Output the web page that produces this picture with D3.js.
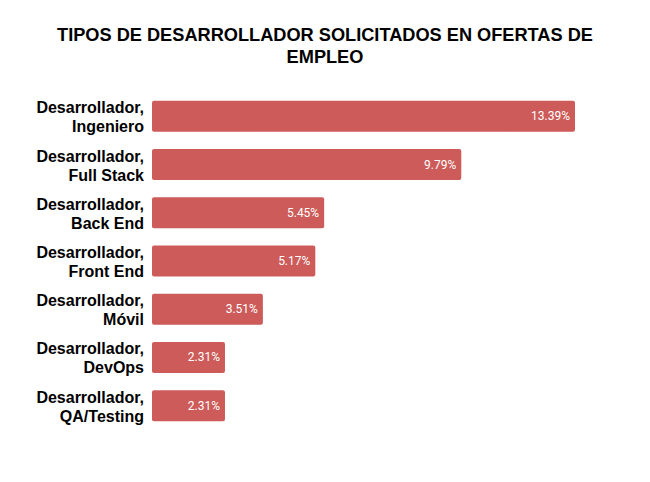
<!DOCTYPE html>
<html><head><meta charset="utf-8">
<script src="https://cdn.jsdelivr.net/npm/d3@7"></script>
<style>body{margin:0;background:#fff}</style>
</head><body>
<svg id="c" width="650" height="482"></svg>
<script>
const categories = ["Desarrollador, Ingeniero","Desarrollador, Full Stack","Desarrollador, Back End","Desarrollador, Front End","Desarrollador, Móvil","Desarrollador, DevOps","Desarrollador, QA/Testing"];
const values = [13.39, 9.79, 5.45, 5.17, 3.51, 2.31, 2.31];
const titleLines = ["TIPOS DE DESARROLLADOR SOLICITADOS EN OFERTAS DE","EMPLEO"];

const svg = d3.select("#c");
const x = d3.scaleLinear().domain([0, 13.39]).range([152, 575]);
const y = d3.scaleBand().domain(categories).range([93, 429]).paddingInner(0.355).paddingOuter(0.16);

svg.append("g").selectAll("text").data(titleLines).join("text")
  .attr("x", 325).attr("y", (d,i)=>41+i*22)
  .attr("text-anchor","middle").attr("font-family","'Liberation Sans', Arial, sans-serif")
  .attr("font-weight","bold").attr("font-size",18.2).attr("fill","#000").text(d=>d);

const g = svg.append("g");
g.selectAll("rect").data(values).join("rect")
  .attr("x", x(0)).attr("y",(d,i)=>y(categories[i]))
  .attr("width", d=>x(d)-x(0)).attr("height", y.bandwidth())
  .attr("rx",2).attr("fill","#cc5b59");

g.selectAll("text.v").data(values).join("text").attr("class","v")
  .attr("x", d=>x(d)-5).attr("y",(d,i)=>y(categories[i])+y.bandwidth()/2+4)
  .attr("text-anchor","end").attr("font-family","Roboto, sans-serif")
  .attr("font-size",12).attr("fill","#fff").text(d=>d.toFixed(2)+"%");

const lab = g.selectAll("text.c").data(categories).join("text").attr("class","c")
  .attr("text-anchor","end").attr("font-family","'Liberation Sans', Arial, sans-serif")
  .attr("font-weight","bold").attr("font-size",16).attr("fill","#000");
lab.each(function(d,i){
  const parts = d.split(", ");
  const cy = y(d)+y.bandwidth()/2;
  d3.select(this).selectAll("tspan").data([parts[0]+",", parts[1]]).join("tspan")
    .attr("x",144).attr("y",(p,j)=>cy-3+j*19).text(p=>p);
});
</script>
</body></html>
